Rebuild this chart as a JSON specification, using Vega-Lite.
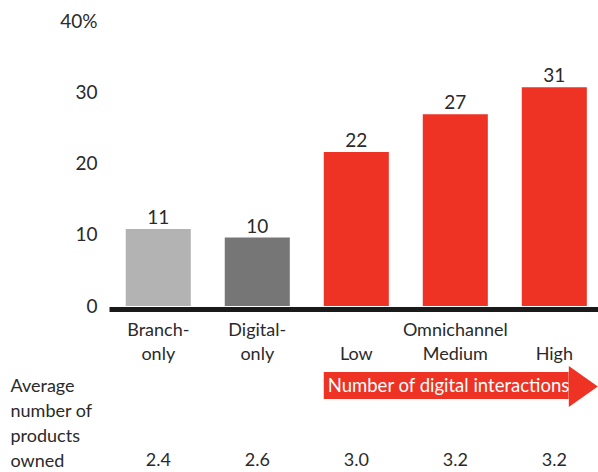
{
  "$schema": "https://vega.github.io/schema/vega-lite/v6.json",
  "width": 489,
  "height": 285,
  "autosize": {"type": "none"},
  "padding": {"left": 109, "top": 21, "right": 0, "bottom": 166},
  "background": "white",
  "config": {
    "view": {"stroke": null},
    "font": "Lato",
    "text": {"font": "Lato", "color": "#2a2a2a"}
  },
  "datasets": {
    "bars": [
      {"segment": "Branch-only", "share": 10.8, "products": 2.4},
      {"segment": "Digital-only", "share": 9.6, "products": 2.6},
      {"segment": "Low", "share": 21.6, "products": 3.0},
      {"segment": "Medium", "share": 26.9, "products": 3.2},
      {"segment": "High", "share": 30.7, "products": 3.2}
    ],
    "arrow": [
      {"from": "Low", "to": "High", "label": "Number of digital interactions"}
    ]
  },
  "layer": [
    {
      "data": {"name": "bars"},
      "mark": {"type": "bar"},
      "encoding": {
        "x": {
          "field": "segment",
          "type": "nominal",
          "sort": null,
          "scale": {
            "domain": ["Branch-only", "Digital-only", "Low", "Medium", "High"],
            "paddingInner": 0.343,
            "paddingOuter": 0.141,
            "align": 0.6
          },
          "axis": {
            "title": null,
            "domainColor": "#1a1a1a",
            "domainWidth": 5,
            "offset": 3,
            "ticks": false,
            "tickSize": 0,
            "labelAngle": 0,
            "labelFontSize": 18,
            "labelColor": "#2a2a2a",
            "labelPadding": 12,
            "labelLineHeight": 24.5,
            "labelBaseline": "top",
            "labelExpr": "datum.value == 'Branch-only' ? ['Branch-', 'only'] : datum.value == 'Digital-only' ? ['Digital-', 'only'] : datum.value == 'Medium' ? ['Omnichannel', 'Medium'] : ['', datum.value]"
          }
        },
        "y": {
          "field": "share",
          "type": "quantitative",
          "scale": {"domain": [0, 40], "nice": false, "zero": true},
          "axis": {
            "values": [0, 10, 20, 30, 40],
            "grid": false,
            "domain": false,
            "ticks": false,
            "tickSize": 0,
            "labelPadding": 12,
            "labelFontSize": 19,
            "labelColor": "#2a2a2a",
            "labelExpr": "datum.value == 40 ? '40%' : datum.label",
            "title": ["Average", "number of", "products", "owned"],
            "titleAngle": 0,
            "titleAlign": "left",
            "titleBaseline": "alphabetic",
            "titleX": -99,
            "titleY": 370.7,
            "titleFontSize": 18,
            "titleFontWeight": "normal",
            "titleLineHeight": 24.8,
            "titleColor": "#2a2a2a",
            "titleFont": "Lato"
          }
        },
        "color": {
          "field": "segment",
          "type": "nominal",
          "scale": {
            "domain": ["Branch-only", "Digital-only", "Low", "Medium", "High"],
            "range": ["#b3b3b3", "#767676", "#ee3224", "#ee3224", "#ee3224"]
          },
          "legend": null
        }
      }
    },
    {
      "data": {"name": "bars"},
      "mark": {"type": "text", "baseline": "alphabetic", "dy": -5, "fontSize": 19},
      "encoding": {
        "x": {"field": "segment", "type": "nominal", "sort": null},
        "y": {"field": "share", "type": "quantitative"},
        "text": {"field": "share", "type": "quantitative", "format": ".0f"}
      }
    },
    {
      "data": {"name": "bars"},
      "mark": {"type": "text", "baseline": "alphabetic", "fontSize": 18},
      "encoding": {
        "x": {"field": "segment", "type": "nominal", "sort": null},
        "y": {"datum": -22.46},
        "text": {"field": "products", "type": "quantitative", "format": ".1f"}
      }
    },
    {
      "data": {"name": "arrow"},
      "mark": {"type": "rect", "color": "#ee3224"},
      "encoding": {
        "x": {"field": "from", "type": "nominal", "bandPosition": 0},
        "x2": {"field": "to", "bandPosition": 0.72},
        "y": {"datum": -9.26},
        "y2": {"datum": -13.05}
      }
    },
    {
      "data": {"name": "arrow"},
      "mark": {
        "type": "point",
        "shape": "M-0.707,-1L0.707,0L-0.707,1Z",
        "filled": true,
        "opacity": 1,
        "size": 1681,
        "color": "#ee3224",
        "strokeWidth": 0
      },
      "encoding": {
        "x": {"field": "to", "type": "nominal", "bandPosition": 0.946},
        "y": {"datum": -11.3}
      }
    },
    {
      "data": {"name": "arrow"},
      "mark": {"type": "text", "align": "left", "baseline": "middle", "dx": 4, "fontSize": 18.5, "color": "white"},
      "encoding": {
        "x": {"field": "from", "type": "nominal", "bandPosition": 0},
        "y": {"datum": -11.2},
        "text": {"field": "label"}
      }
    }
  ]
}
